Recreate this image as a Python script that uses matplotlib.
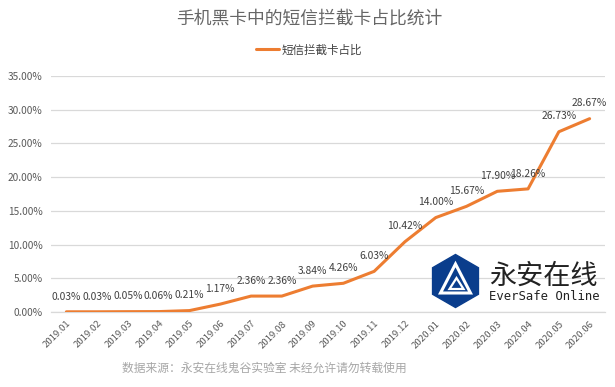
import matplotlib
matplotlib.use("Agg")
import matplotlib.pyplot as plt
import numpy as np
from matplotlib.patches import Polygon

plt.rcParams['font.family'] = ['Noto Sans CJK SC', 'DejaVu Sans']

months = ['2019.01', '2019.02', '2019.03', '2019.04', '2019.05', '2019.06',
          '2019.07', '2019.08', '2019.09', '2019.10', '2019.11', '2019.12',
          '2020.01', '2020.02', '2020.03', '2020.04', '2020.05', '2020.06']
share = [0.03, 0.03, 0.05, 0.06, 0.21, 1.17, 2.36, 2.36, 3.84, 4.26,
         6.03, 10.42, 14.00, 15.67, 17.90, 18.26, 26.73, 28.67]
yticks = [0, 5, 10, 15, 20, 25, 30, 35]

title = '手机黑卡中的短信拦截卡占比统计'
series_name = '短信拦截卡占比'
footer = '数据来源：永安在线鬼谷实验室 未经允许请勿转载使用'

orange = '#ED7D31'
grid_c = '#D9D9D9'
text_c = '#595959'

fig = plt.figure(figsize=(6.15, 3.87), dpi=100)
ax = fig.add_axes([51 / 615, 1 - 312 / 387, 554 / 615, 236 / 387])

x = np.arange(len(months))
ax.plot(x, share, color=orange, linewidth=2.2, solid_capstyle='round',
        solid_joinstyle='round', label=series_name, zorder=3)

# data labels above each point
for xi, v in zip(x, share):
    ax.annotate(f'{v:.2f}%', (xi, v), xytext=(0, 11), textcoords='offset points',
                ha='center', va='center', fontsize=7.4, color='#404040', zorder=4)

ax.set_xlim(-0.5, len(months) - 0.5)
ax.set_ylim(0, 35)
ax.set_yticks(yticks)
ax.set_yticklabels([f'{t:.2f}%' for t in yticks], fontsize=7.3, color=text_c)
ax.set_xticks(x)
ax.set_xticklabels(months, rotation=45, ha='right', rotation_mode='anchor',
                   fontsize=6.9, color=text_c)
ax.tick_params(length=0, pad=6)
ax.tick_params(axis='x', pad=5)
ax.grid(axis='y', color=grid_c, linewidth=0.9)
ax.set_axisbelow(True)
for s in ['top', 'right', 'left']:
    ax.spines[s].set_visible(False)
ax.spines['bottom'].set_color(grid_c)
ax.spines['bottom'].set_linewidth(0.9)

fig.text(309 / 615, 1 - 19 / 387, title, ha='center', va='center', fontsize=12.8, color='#666666')
leg = fig.legend(loc='center', bbox_to_anchor=(309 / 615, 1 - 50 / 387), frameon=False,
                 fontsize=8.3, handlelength=2.0, handletextpad=0.2)
for t in leg.get_texts():
    t.set_color('#404040')
fig.text(264 / 615, 1 - 368 / 387, footer, ha='center', va='center',
         fontsize=8.5, color='#A6A6A6')

# watermark logo
lx = fig.add_axes([0, 0, 1, 1], zorder=5)
lx.set_xlim(0, 615)
lx.set_ylim(387, 0)
lx.axis('off')
lx.patch.set_alpha(0)
cx, cy, r = 455.5, 281, 26.5
ang = np.deg2rad(np.arange(90, 450, 60))
hexagon = np.column_stack([cx + r * np.cos(ang), cy - r * np.sin(ang)])
lx.add_patch(Polygon(hexagon, closed=True, color='#0A3D8C'))
tri_out = [(cx, cy - 17), (cx - 15, cy + 12), (cx + 15, cy + 12)]
lx.add_patch(Polygon(tri_out, closed=True, fill=False, edgecolor='white', linewidth=2.2))
tri_in = [(cx + 1, cy - 3), (cx - 6, cy + 8), (cx + 8, cy + 8)]
lx.add_patch(Polygon(tri_in, closed=True, fill=False, edgecolor='white', linewidth=1.6))
lx.text(489, 276, '永安在线', fontsize=19.5, color='#222222', va='center', ha='left')
lx.text(489, 296, 'EverSafe Online', fontsize=8.8, color='#222222', va='center', ha='left',
        family='DejaVu Sans Mono')

fig.savefig('out.png', dpi=100)
